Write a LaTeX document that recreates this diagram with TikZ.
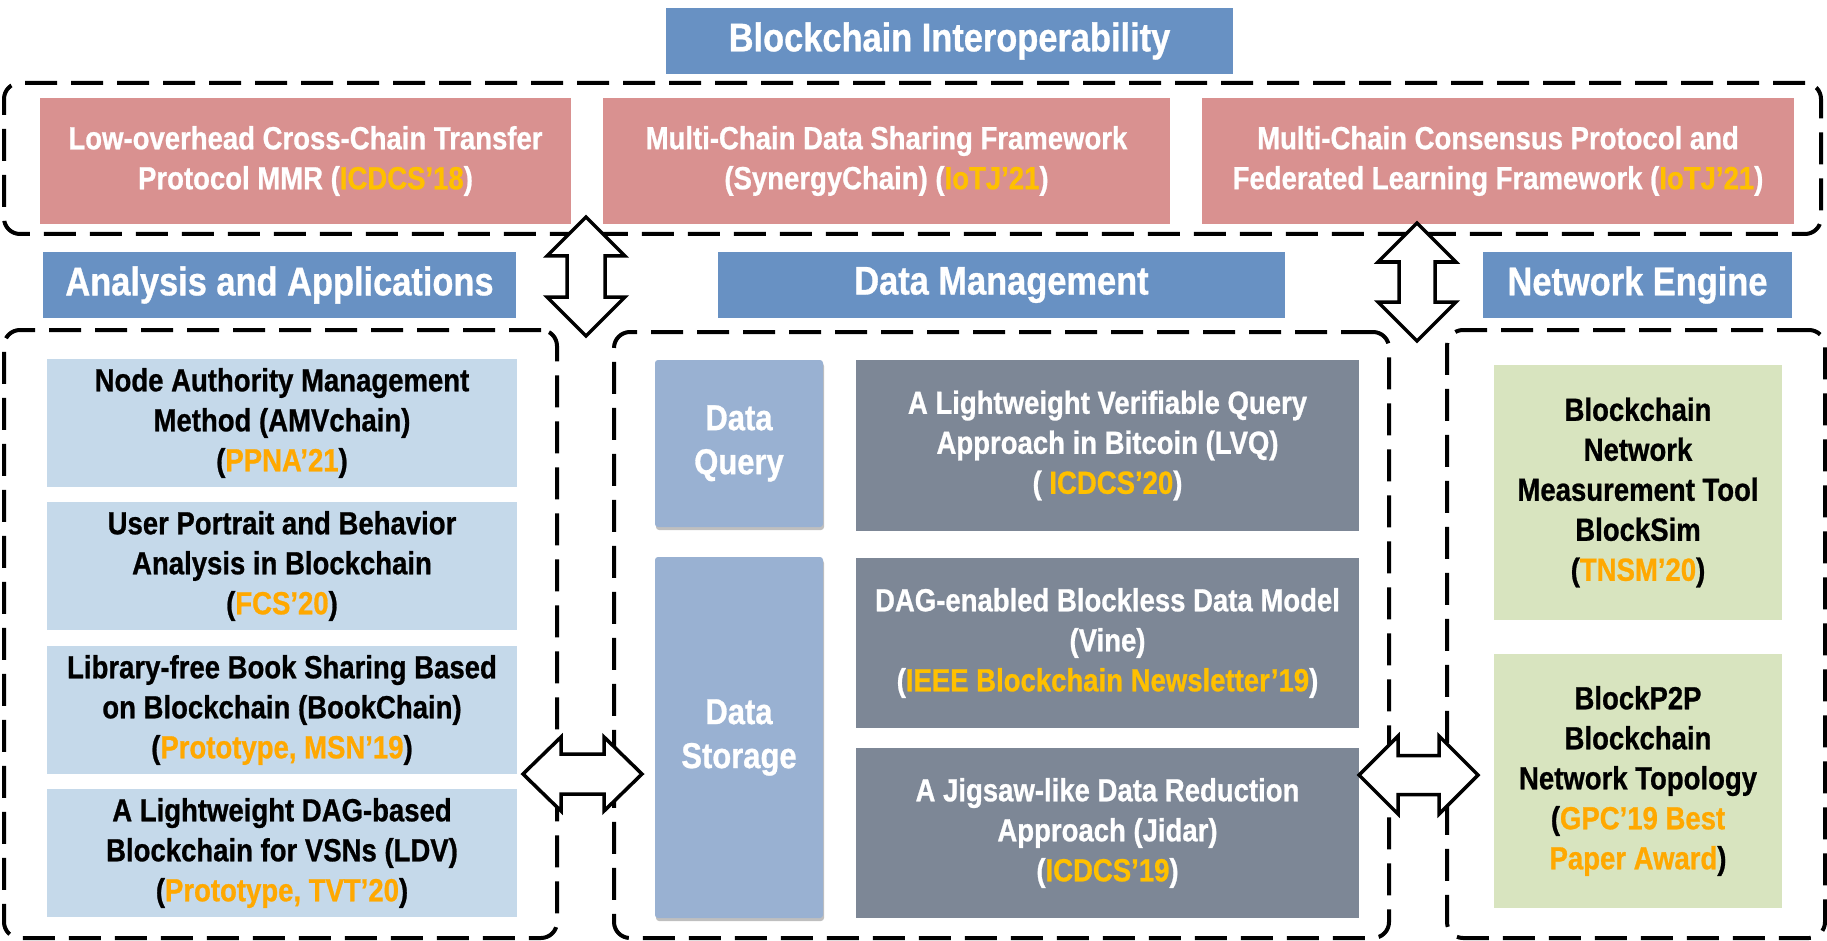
\documentclass[tikz,border=0pt]{standalone}
\usepackage{fontspec}
\setmainfont{Liberation Sans}
\newfontfamily\cf{Liberation Sans}[FakeStretch=0.86,FakeBold=0.8]
\usetikzlibrary{shadows}
\definecolor{tblue}{RGB}{104,145,195}
\definecolor{pinkc}{RGB}{217,145,144}
\definecolor{lblue}{RGB}{197,217,234}
\definecolor{qblue}{RGB}{153,177,210}
\definecolor{grayc}{RGB}{125,135,150}
\definecolor{greenc}{RGB}{216,228,191}
\definecolor{goldc}{RGB}{255,192,0}
\definecolor{orangec}{RGB}{255,168,0}
\newcommand\gd[1]{\textcolor{goldc}{#1}}
\newcommand\og[1]{\textcolor{orangec}{#1}}
\newcommand\vdarr[6]{\draw[blockarrow] (#1,#2) -- (#1+#4,#2+#6) -- (#1+#5,#2+#6) -- (#1+#5,#3-#6) -- (#1+#4,#3-#6) -- (#1,#3) -- (#1-#4,#3-#6) -- (#1-#5,#3-#6) -- (#1-#5,#2+#6) -- (#1-#4,#2+#6) -- cycle;}
\newcommand\hdarr[6]{\draw[blockarrow] (#2,#1) -- (#2+#6,#1-#4) -- (#2+#6,#1-#5) -- (#3-#6,#1-#5) -- (#3-#6,#1-#4) -- (#3,#1) -- (#3-#6,#1+#4) -- (#3-#6,#1+#5) -- (#2+#6,#1+#5) -- (#2+#6,#1+#4) -- cycle;}
\tikzset{
 base/.style={inner sep=0pt, outer sep=0pt, align=center, font=\cf\bfseries\fontsize{32}{40}\selectfont},
 titlebox/.style={base, fill=tblue, text=white, font=\cf\bfseries\fontsize{40}{48}\selectfont},
 pinkbox/.style={base, fill=pinkc, text=white},
 lbbox/.style={base, fill=lblue, text=black},
 graybox/.style={base, fill=grayc, text=white},
 greenbox/.style={base, fill=greenc, text=black},
 catbox/.style={base, fill=qblue, text=white, rounded corners=3pt, drop shadow={shadow xshift=1pt, shadow yshift=-3pt, opacity=0.25, fill=black}, font=\cf\bfseries\fontsize{36}{44}\selectfont},
 group/.style={draw=black, line width=4pt, dash pattern=on 32pt off 14pt, rounded corners=16pt, inner sep=0pt},
 blockarrow/.style={draw=black, fill=white, line width=3.5pt, line join=miter},
}
\begin{document}
\begin{tikzpicture}[x=1pt,y=-1pt]
\useasboundingbox[fill=white] (0,0) rectangle (1827,941);
% group frames
\node[group, minimum width=1817pt, minimum height=151pt] (gtop) at (912.5,158.5) {};
\node[group, minimum width=553pt, minimum height=608pt] (gleft) at (280.5,634) {};
\node[group, minimum width=775pt, minimum height=606pt] (gmid) at (1001.5,635) {};
\node[group, minimum width=378pt, minimum height=608pt] (gright) at (1636,634) {};
% titles
\node[titlebox, minimum width=567pt, minimum height=66pt] (tbi) at (949.5,41) {Blockchain Interoperability};
\node[titlebox, minimum width=473pt, minimum height=66pt] (taa) at (279.5,285) {Analysis and Applications};
\node[titlebox, minimum width=567pt, minimum height=66pt] (tdm) at (1001.5,285) {Data Management};
\node[titlebox, minimum width=309pt, minimum height=66pt] (tne) at (1637.5,285) {Network Engine};
% interoperability
\node[pinkbox, minimum width=531pt, minimum height=126pt] (p1) at (305.5,161) {Low-overhead Cross-Chain Transfer\\Protocol MMR (\gd{ICDCS’18})};
\node[pinkbox, minimum width=567pt, minimum height=126pt] (p2) at (886.5,161) {Multi-Chain Data Sharing Framework\\(SynergyChain) (\gd{IoTJ’21})};
\node[pinkbox, minimum width=592pt, minimum height=126pt] (p3) at (1498,161) {Multi-Chain Consensus Protocol and\\Federated Learning Framework (\gd{IoTJ’21})};
% analysis and applications
\node[lbbox, minimum width=470pt, minimum height=128.5pt] (a1) at (282,423) {Node Authority Management\\Method (AMVchain)\\(\og{PPNA’21})};
\node[lbbox, minimum width=470pt, minimum height=128.5pt] (a2) at (282,566) {User Portrait and Behavior\\Analysis in Blockchain\\(\og{FCS’20})};
\node[lbbox, minimum width=470pt, minimum height=128.5pt] (a3) at (282,710) {Library-free Book Sharing Based\\on Blockchain (BookChain)\\(\og{Prototype, MSN’19})};
\node[lbbox, minimum width=470pt, minimum height=128.5pt] (a4) at (282,853) {A Lightweight DAG-based\\Blockchain for VSNs (LDV)\\(\og{Prototype, TVT’20})};
% data management
\node[catbox, minimum width=168pt, minimum height=167pt] (dq) at (739,443.5) {Data\\Query};
\node[catbox, minimum width=168pt, minimum height=361pt] (ds) at (739,737.5) {Data\\Storage};
\node[graybox, minimum width=503pt, minimum height=171pt] (d1) at (1107.5,445.5) {A Lightweight Verifiable Query\\Approach in Bitcoin (LVQ)\\( \gd{ICDCS’20})};
\node[graybox, minimum width=503pt, minimum height=170pt] (d2) at (1107.5,643) {DAG-enabled Blockless Data Model\\(Vine)\\(\gd{IEEE Blockchain Newsletter’19})};
\node[graybox, minimum width=503pt, minimum height=170pt] (d3) at (1107.5,833) {A Jigsaw-like Data Reduction\\Approach (Jidar)\\(\gd{ICDCS’19})};
% network engine
\node[greenbox, minimum width=288pt, minimum height=255pt] (n1) at (1638,492.5) {Blockchain\\Network\\Measurement Tool\\BlockSim\\(\og{TNSM’20})};
\node[greenbox, minimum width=288pt, minimum height=254pt] (n2) at (1638,781) {BlockP2P\\Blockchain\\Network Topology\\(\og{GPC’19 Best}\\\og{Paper Award})};
% block arrows
\vdarr{586}{217}{336}{39}{19}{39}
\vdarr{1417}{223}{341}{39}{18}{39}
\hdarr{774}{523}{642}{37}{20}{38}
\hdarr{775}{1359}{1478}{39}{19.5}{39}
\end{tikzpicture}
\end{document}
